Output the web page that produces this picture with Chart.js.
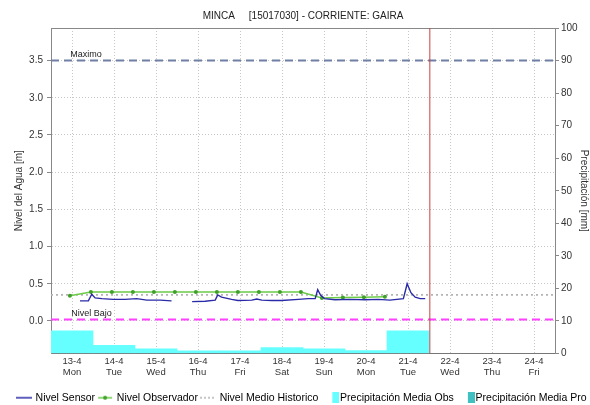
<!DOCTYPE html>
<html>
<head>
<meta charset="utf-8">
<script src="https://cdn.jsdelivr.net/npm/chart.js@4.4.1/dist/chart.umd.min.js"></script>
<style>
  html, body { margin: 0; padding: 0; background: #fff; }
</style>
</head>
<body>
<canvas id="chart" width="590" height="405"></canvas>
<script>
/* ===========================
   DATOS
=========================== */

const dayLabels = ["13-4", "14-4", "15-4", "16-4", "17-4", "18-4", "19-4", "20-4", "21-4", "22-4", "23-4", "24-4"];
const weekDays = ["Mon", "Tue", "Wed", "Thu", "Fri", "Sat", "Sun", "Mon", "Tue", "Wed", "Thu", "Fri"];
const levelTicks = [0, 0.5, 1.0, 1.5, 2.0, 2.5, 3.0, 3.5];
const levelMin = -0.4375;
const levelMax = 3.9375;
const precipMax = 100;

// Nivel Sensor (dias desde 13-4, metros)
const sensorDay = [0.19, 0.39, 0.47, 0.55, 0.71, 0.98, 1.26, 1.54, 1.78, 2.10, 2.37, 2.60,
    2.86, 3.17, 3.41, 3.47, 3.56, 3.80, 3.95, 4.28, 4.40, 4.52, 4.76, 4.99,
    5.39, 5.62, 5.79, 5.85, 5.92, 6.01, 6.26, 6.62, 6.98, 7.29, 7.57,
    7.89, 7.98, 8.07, 8.17, 8.29, 8.41];
const sensorLevel = [0.27, 0.27, 0.36, 0.31, 0.30, 0.29, 0.29, 0.30, 0.28, 0.28, 0.27, null,
    0.26, 0.265, 0.28, 0.35, 0.32, 0.29, 0.275, 0.28, 0.295, 0.28, 0.275, 0.275,
    0.29, 0.30, 0.30, 0.42, 0.345, 0.30, 0.285, 0.29, 0.285, 0.29, 0.28,
    0.30, 0.50, 0.38, 0.32, 0.30, 0.30];

// Nivel Observador
const obsDay = [-0.05, 0.45, 0.95, 1.45, 1.95, 2.45, 2.95, 3.45, 3.95, 4.45, 4.95, 5.45, 5.95, 6.45, 6.95, 7.45];
const obsLevel = [0.34, 0.39, 0.39, 0.39, 0.39, 0.39, 0.39, 0.39, 0.39, 0.39, 0.39, 0.39, 0.31, 0.315, 0.32, 0.325];

// Precipitacion diaria (mm)
const precipObs = [7.0, 2.5, 1.4, 0.8, 0.8, 1.8, 1.4, 0.9, 7.0, null, null, null];
const precipPro = [null, null, null, null, null, null, null, null, null, null, null, null];

const nivelMaximo = 3.5;
const nivelBajo = 0.02;
const nivelMedio = 0.35;
const ahoraDay = 8.52;

/* ===========================
   ESTILOS
=========================== */

const colSensor = "#2a2aa8";
const colObs = "#6ccc48";
const colObsPt = "#3f9f2a";
const colMedio = "#b4b4b4";
const colPrecObs = "#66ffff";
const colPrecPro = "#40c0c0";
const colMax = "#6f80a4";
const colBajo = "#ff40ff";
const colAhora = "#c84040";
const colGrid = "#c8c8c8";

Chart.defaults.font.family = '"Liberation Sans", Arial, sans-serif';
Chart.defaults.font.size = 10;
Chart.defaults.color = "#333";

const pts = (xs, ys) => xs.map((x, i) => ({ x, y: ys[i] }));
const dayIdx = dayLabels.map((_, i) => i);
const xMin = -0.5;
const xMax = dayLabels.length - 0.5;

/* ===========================
   SIMBOLOS DE LEYENDA
=========================== */

function symbol(w, h, draw) {
    const c = document.createElement("canvas");
    c.width = w;
    c.height = h;
    draw(c.getContext("2d"), w, h);
    return c;
}

const symSensor = symbol(16, 10, (g, w) => {
    g.strokeStyle = colSensor; g.lineWidth = 1.5;
    g.beginPath(); g.moveTo(0, 5); g.lineTo(w, 5); g.stroke();
});
const symObs = symbol(16, 10, (g, w) => {
    g.strokeStyle = colObs; g.lineWidth = 1.5;
    g.beginPath(); g.moveTo(1, 5); g.lineTo(w - 1, 5); g.stroke();
    g.fillStyle = colObsPt;
    g.beginPath(); g.arc(w / 2, 5, 2, 0, Math.PI * 2); g.fill();
});
const symMedio = symbol(16, 10, (g, w) => {
    g.strokeStyle = colMedio; g.lineWidth = 1.5; g.setLineDash([2, 2]);
    g.beginPath(); g.moveTo(0, 5); g.lineTo(w, 5); g.stroke();
});
const symPrecObs = symbol(22, 11, (g) => {
    g.fillStyle = colPrecObs; g.fillRect(15, 0, 7, 11);
});
const symPrecPro = symbol(22, 11, (g) => {
    g.fillStyle = colPrecPro; g.fillRect(15, 0, 7, 11);
});

const legendDefs = [
    ["Nivel Sensor", symSensor],
    ["Nivel Observador", symObs],
    ["Nivel Medio Historico", symMedio],
    ["Precipitación Media Obs", symPrecObs],
    ["Precipitación Media Pro", symPrecPro]
];

/* ===========================
   ETIQUETAS DE NIVELES
=========================== */

const levelLabels = {
    id: "levelLabels",
    afterDatasetsDraw(chart) {
        const { ctx, scales: { x, y } } = chart;
        ctx.save();
        ctx.font = '9px "Liberation Sans", Arial, sans-serif';
        ctx.fillStyle = "#222";
        ctx.textBaseline = "alphabetic";
        ctx.fillText("Maximo", x.getPixelForValue(-0.04), y.getPixelForValue(nivelMaximo) - 4);
        ctx.fillText("Nivel Bajo", x.getPixelForValue(-0.02), y.getPixelForValue(nivelBajo) - 3);
        ctx.restore();
    }
};

/* ===========================
   GRAFICO
=========================== */

new Chart(document.getElementById("chart"), {
    type: "line",
    data: {
        datasets: [
            {
                label: "Nivel Sensor",
                data: pts(sensorDay, sensorLevel),
                borderColor: colSensor, borderWidth: 1.4,
                pointRadius: 0, spanGaps: false, order: 0
            },
            {
                label: "Nivel Observador",
                data: pts(obsDay, obsLevel),
                borderColor: colObs, borderWidth: 1.5,
                pointRadius: 2, pointBackgroundColor: colObsPt, pointBorderWidth: 0, order: 1
            },
            {
                label: "Nivel Medio Historico",
                data: pts([xMin, xMax], [nivelMedio, nivelMedio]),
                borderColor: colMedio, borderWidth: 1.8, borderDash: [2, 3],
                pointRadius: 0, order: 2
            },
            {
                type: "bar",
                label: "Precipitación Media Obs",
                data: pts(dayIdx, precipObs),
                yAxisID: "y1",
                backgroundColor: colPrecObs, borderWidth: 0,
                barPercentage: 1, categoryPercentage: 1, grouped: false, order: 10
            },
            {
                type: "bar",
                label: "Precipitación Media Pro",
                data: pts(dayIdx, precipPro),
                yAxisID: "y1",
                backgroundColor: colPrecPro, borderWidth: 0,
                barPercentage: 1, categoryPercentage: 1, grouped: false, order: 10
            },
            {
                label: "Maximo",
                data: pts([xMin, xMax], [nivelMaximo, nivelMaximo]),
                borderColor: colMax, borderWidth: 2, borderDash: [8, 5],
                pointRadius: 0, order: 3
            },
            {
                label: "Nivel Bajo",
                data: pts([xMin, xMax], [nivelBajo, nivelBajo]),
                borderColor: colBajo, borderWidth: 2, borderDash: [8, 5],
                pointRadius: 0, order: 3
            },
            {
                label: "Ahora",
                data: pts([ahoraDay, ahoraDay], [levelMin, levelMax]),
                borderColor: colAhora, borderWidth: 1,
                pointRadius: 0, order: 2
            }
        ]
    },
    options: {
        responsive: false,
        animation: false,
        events: [],
        layout: { padding: { left: 0, right: 0, top: 0, bottom: -8 } },
        scales: {
            x: {
                type: "linear", min: xMin, max: xMax, offset: false,
                afterBuildTicks: s => { s.ticks = dayIdx.map(v => ({ value: v })); },
                ticks: {
                    autoSkip: false, maxRotation: 0, padding: 2.5,
                    font: { size: 9.5, lineHeight: 1.15 }, color: "#333",
                    callback: v => [dayLabels[Math.round(v)], weekDays[Math.round(v)]]
                },
                grid: { color: colGrid, drawTicks: false, offset: false },
                border: { color: "#777", dash: [1, 2] },
                afterFit: s => { s.height = 35.5; }
            },
            xt: {
                type: "linear", position: "top", axis: "x",
                ticks: { display: false },
                grid: { drawOnChartArea: false, drawTicks: false },
                border: { color: "#888" },
                afterFit: s => { s.height = 0; }
            },
            y: {
                position: "left", min: levelMin, max: levelMax,
                afterBuildTicks: s => { s.ticks = levelTicks.map(v => ({ value: v })); },
                ticks: { padding: 4, callback: v => Number(v).toFixed(1) },
                grid: { color: colGrid, tickColor: "#888", tickLength: 4, tickBorderDash: [] },
                border: { color: "#888", dash: [1, 2] },
                title: { display: true, text: "Nivel del Agua [m]", padding: { top: 13, bottom: 0 } },
                afterFit: s => { s.width = 51; }
            },
            y1: {
                position: "right", min: 0, max: precipMax,
                ticks: { stepSize: 10, padding: 2 },
                grid: { drawOnChartArea: false, tickColor: "#888", tickLength: 4 },
                border: { color: "#888" },
                title: { display: true, text: "Precipitación [mm]", padding: { top: 0, bottom: 0 } },
                afterFit: s => { s.width = 35; }
            }
        },
        plugins: {
            title: {
                display: true,
                text: "MINCA     [15017030] - CORRIENTE: GAIRA",
                fullSize: false,
                font: { size: 10, weight: "normal" },
                color: "#222",
                padding: { top: 10, bottom: 6 }
            },
            legend: {
                position: "bottom",
                align: "end",
                labels: {
                    usePointStyle: true,
                    pointStyleWidth: 13,
                    boxHeight: 10,
                    padding: 3.5,
                    font: { size: 10.5 },
                    color: "#222",
                    generateLabels: () => legendDefs.map(([text, sym], i) => ({
                        text, pointStyle: sym, fillStyle: "#fff", strokeStyle: "#fff",
                        lineWidth: 0, hidden: false, datasetIndex: i
                    }))
                }
            },
            tooltip: { enabled: false }
        }
    },
    plugins: [levelLabels]
});
</script>
</body>
</html>
